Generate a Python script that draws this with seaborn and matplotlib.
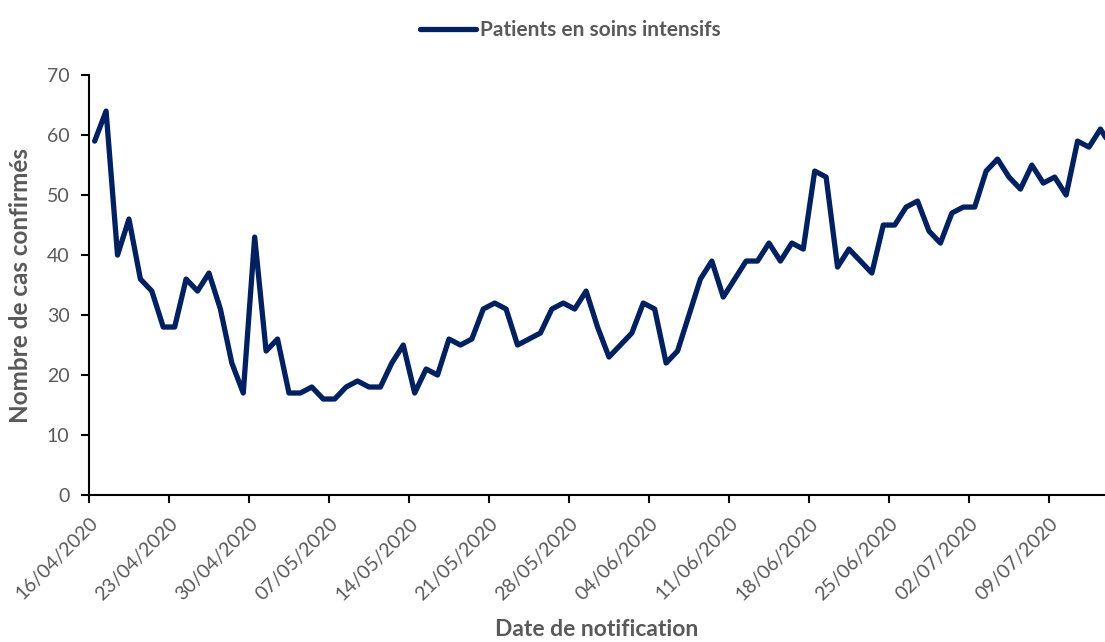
import pandas as pd
import seaborn as sns
import matplotlib.pyplot as plt
import matplotlib.dates as mdates

# Daily ICU patients, 16/04/2020 onwards (last point is clipped by the axis edge)
start_date = "2020-04-16"
icu_patients = [59, 64, 40, 46, 36, 34, 28, 28, 36, 34, 37, 31, 22, 17, 43, 24, 26,
                17, 17, 18, 16, 16, 18, 19, 18, 18, 22, 25, 17, 21, 20, 26,
                25, 26, 31, 32, 31, 25, 26, 27, 31, 32, 31, 34, 28, 23,
                25, 27, 32, 31, 22, 24, 30, 36, 39, 33, 36, 39, 39, 42, 39, 42, 41, 54, 53, 38, 41,
                39, 37, 45, 45, 48, 49, 44, 42, 47, 48, 48, 54, 56, 53, 51, 55, 52, 53, 50, 59, 58, 61,
                58]
series_name = "Patients en soins intensifs"
y_ticks = [0, 10, 20, 30, 40, 50, 60, 70]

dates = pd.date_range(start_date, periods=len(icu_patients), freq="D")
# Excel plots each day in the middle of its interval
data = pd.DataFrame({"date": dates + pd.Timedelta(hours=12),
                     "patients": icu_patients,
                     "serie": series_name})

sns.set_style("white")
plt.rcParams["font.family"] = ["Lato", "DejaVu Sans"]

grey = "#595959"
navy = "#002060"

fig = plt.figure(figsize=(11.05, 6.42), dpi=100)
ax = fig.add_axes([0.0805, 0.229, 0.9195, 0.654])

sns.lineplot(data=data, x="date", y="patients", hue="serie",
             palette=[navy], linewidth=3.8, ax=ax, legend=False)
ax.lines[0].set_solid_joinstyle("round")
ax.lines[0].set_solid_capstyle("round")

ax.set_xlim(pd.Timestamp(start_date), pd.Timestamp(start_date) + pd.Timedelta(days=88.9))
ax.set_ylim(0, 70)
ax.set_yticks(y_ticks)

tick_dates = pd.date_range(start_date, periods=13, freq="7D")
ax.set_xticks(tick_dates)
ax.xaxis.set_major_formatter(mdates.DateFormatter("%d/%m/%Y"))
plt.setp(ax.get_xticklabels(), rotation=45, ha="right", rotation_mode="anchor", fontsize=14.5)

ax.tick_params(axis="both", colors="black", labelcolor=grey, labelsize=14,
               length=6, width=1.5, direction="out")
ax.tick_params(axis="x", pad=8)
ax.tick_params(axis="y", pad=8)
ax.tick_params(left=True, bottom=True)

for side in ["top", "right"]:
    ax.spines[side].set_visible(False)
for side in ["left", "bottom"]:
    ax.spines[side].set_color("black")
    ax.spines[side].set_linewidth(1.5)

ax.set_xlabel("Date de notification", fontsize=16.5, fontweight="bold", color=grey)
ax.set_ylabel("Nombre de cas confirmés", fontsize=17.5, fontweight="bold", color=grey)
ax.xaxis.set_label_coords(0.5, -0.295)
ax.yaxis.set_label_coords(-0.0565, 0.5)

handle = plt.Line2D([], [], color=navy, linewidth=3.8, solid_capstyle="round")
leg = fig.legend([handle], [series_name], loc="upper center", bbox_to_anchor=(0.516, 0.998),
                 frameon=False, fontsize=15, handlelength=2.7, handletextpad=0.15)
for t in leg.get_texts():
    t.set_color(grey)
    t.set_fontweight("bold")

fig.savefig("out.png", dpi=100)
